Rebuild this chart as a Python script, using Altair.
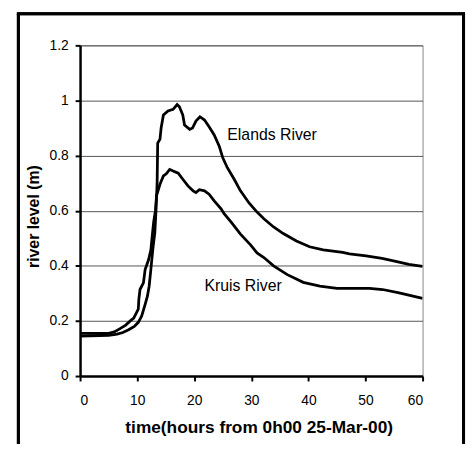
import altair as alt
import pandas as pd

# ---- data ----
elands_hours = [0, 5, 6.5, 7.5, 8.5, 9.5, 10.2, 10.8, 11.4, 11.8, 12.1, 12.4, 12.6, 12.8, 13.1,
                13.3, 13.5, 13.6, 14.0, 14.2, 14.6, 15.4, 16.3, 17.0, 17.4, 18.0, 18.3, 19.2,
                19.7, 20.3, 21.0, 21.8, 22.6, 23.5, 24.4, 25.0, 25.8, 27.0, 28.1, 29.6, 31.0,
                32.2, 33.9, 35.6, 37.9, 40.2, 42.6, 46.0, 47.2, 50.1, 52.9, 55.3, 57.6, 60]
elands_level = [0.145, 0.148, 0.152, 0.158, 0.168, 0.18, 0.195, 0.218, 0.26, 0.29, 0.326, 0.386,
                0.43, 0.47, 0.52, 0.6, 0.7, 0.845, 0.86, 0.9, 0.947, 0.962, 0.968, 0.985, 0.977,
                0.947, 0.911, 0.895, 0.9, 0.925, 0.941, 0.929, 0.905, 0.875, 0.833, 0.792, 0.756,
                0.714, 0.672, 0.628, 0.595, 0.571, 0.541, 0.517, 0.49, 0.469, 0.458, 0.449, 0.443,
                0.436, 0.427, 0.416, 0.405, 0.398]

kruis_hours = [0, 5, 6, 7, 8, 8.8, 9.4, 10.2, 10.3, 10.5, 11.1, 11.4, 12.0, 12.4, 12.6, 12.9,
               13.2, 13.4, 14.0, 14.6, 15.1, 15.7, 16.3, 17.2, 18.0, 18.9, 19.8, 20.3, 20.9,
               21.8, 22.6, 23.5, 24.7, 25.2, 26.4, 28.1, 29.9, 31.0, 32.2, 33.9, 36.3, 39.1,
               42.0, 45.0, 50.7, 53.0, 55.9, 60]
kruis_level = [0.155, 0.155, 0.16, 0.172, 0.185, 0.2, 0.21, 0.243, 0.278, 0.314, 0.338, 0.386,
               0.422, 0.457, 0.5, 0.56, 0.6, 0.655, 0.696, 0.726, 0.734, 0.75, 0.744, 0.736,
               0.714, 0.69, 0.672, 0.666, 0.676, 0.672, 0.66, 0.636, 0.607, 0.59, 0.56, 0.515,
               0.475, 0.447, 0.43, 0.4, 0.368, 0.34, 0.326, 0.318, 0.318, 0.314, 0.302, 0.282]

x_ticks = [0, 10, 20, 30, 40, 50, 60]
y_ticks = [0, 0.2, 0.4, 0.6, 0.8, 1.0, 1.2]

label_text = ["Elands River", "Kruis River"]
label_hour = [25.8, 21.8]
label_level = [0.876, 0.328]

df = pd.concat([
    pd.DataFrame({"hour": elands_hours, "level": elands_level, "river": "Elands River"}),
    pd.DataFrame({"hour": kruis_hours, "level": kruis_level, "river": "Kruis River"}),
])
lab = pd.DataFrame({"hour": label_hour, "level": label_level, "text": label_text})

FONT = "Liberation Sans"

xs = alt.Scale(domain=[0, 60], nice=False, zero=False)
ys = alt.Scale(domain=[0, 1.2], nice=False)

lines = alt.Chart(df).mark_line(color="black", strokeWidth=2.8, clip=True).encode(
    x=alt.X("hour:Q", scale=xs,
            axis=alt.Axis(values=x_ticks, grid=False, title="time(hours from 0h00 25-Mar-00)",
                          titleFontSize=17.5, titleFontWeight="bold", titlePadding=11,
                          titleX=181, titleAlign="center",
                          labelFontSize=14, labelPadding=13)),
    y=alt.Y("level:Q", scale=ys,
            axis=alt.Axis(values=y_ticks, format="~g", grid=True, title="river level (m)",
                          titleFontSize=16, titleFontWeight="bold", titlePadding=8,
                          titleY=173,
                          labelFontSize=14, labelPadding=7)),
    detail="river:N",
)

texts = alt.Chart(lab).mark_text(align="left", baseline="middle", font=FONT, fontSize=16,
                                  color="black").encode(
    x=alt.X("hour:Q", scale=xs), y=alt.Y("level:Q", scale=ys), text="text:N")

# outer frame (decoration, in pixel coordinates)
frame_l = alt.Chart(lab).mark_rule(color="black", strokeWidth=3).encode(
    x=alt.value(-62.5), y=alt.value(-32), y2=alt.value(420))
frame_r = alt.Chart(lab).mark_rule(color="black", strokeWidth=3).encode(
    x=alt.value(388.5), y=alt.value(-32), y2=alt.value(420))
frame_t = alt.Chart(lab).mark_rule(color="black", strokeWidth=3).encode(
    x=alt.value(-64), x2=alt.value(390), y=alt.value(-32))

chart = alt.layer(lines, texts, frame_l, frame_r, frame_t).properties(
    width=347, height=335,
    autosize=alt.AutoSizeParams(type="none"),
    padding={"left": 73, "top": 35, "right": 45, "bottom": 66},
).configure_axis(
    labelFont=FONT, titleFont=FONT, labelColor="black", titleColor="black",
    domainColor="black", domainWidth=2.5, tickColor="black", tickWidth=2, tickSize=5,
    gridColor="#555", gridWidth=1,
).configure_view(stroke="#888", strokeWidth=1)

chart.save("out.html", embed_options={"renderer": "svg", "actions": False})
